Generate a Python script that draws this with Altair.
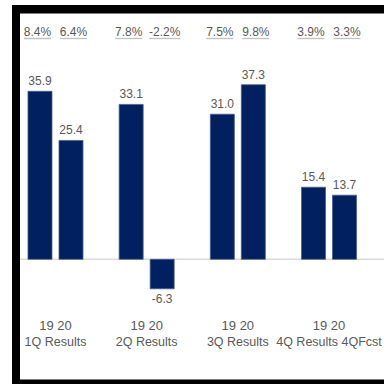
import altair as alt
import pandas as pd

quarters = ["1Q Results", "2Q Results", "3Q Results", "4Q Results 4QFcst"]
years = ["19", "20"]
values_19 = [35.9, 33.1, 31.0, 15.4]
values_20 = [25.4, -6.3, 37.3, 13.7]
pct_19 = ["8.4%", "7.8%", "7.5%", "3.9%"]
pct_20 = ["6.4%", "-2.2%", "9.8%", "3.3%"]

rows = []
for i, q in enumerate(quarters):
    rows.append(dict(quarter=q, year=years[0], value=values_19[i], pct=pct_19[i]))
    rows.append(dict(quarter=q, year=years[1], value=values_20[i], pct=pct_20[i]))
df = pd.DataFrame(rows)
df["vlabel"] = df["value"].map(lambda v: f"{v:.1f}")
grp = pd.DataFrame({"quarter": quarters, "years": [" ".join(years)] * len(quarters)})

FONT = "Liberation Sans"
NAVY = "#002060"
GREY = "#595959"

xscale = alt.Scale(domain=quarters, range=[9.9, 374.6], paddingInner=0, paddingOuter=0)
offscale = alt.Scale(domain=years, paddingInner=0.2258, paddingOuter=0.583)
yscale = alt.Scale(domain=[-10, 50], range=[306.1, 25.3])

X = alt.X("quarter:N", scale=xscale, axis=None, sort=quarters)
XO = alt.XOffset("year:N", scale=offscale, sort=years)
Y = alt.Y("value:Q", scale=yscale, axis=None)

base = alt.Chart(df)

bars = base.mark_bar(color=NAVY, stroke="#4a5d8a", strokeWidth=0.8).encode(x=X, xOffset=XO, y=Y)

pos_lbl = base.transform_filter("datum.value >= 0").mark_text(
    baseline="alphabetic", dy=-6, fontSize=12, font=FONT, color=GREY
).encode(x=X, xOffset=XO, y=Y, text="vlabel:N")

neg_lbl = base.transform_filter("datum.value < 0").mark_text(
    baseline="top", dy=5, fontSize=12, font=FONT, color=GREY
).encode(x=X, xOffset=XO, y=Y, text="vlabel:N")

main = alt.layer(bars, pos_lbl, neg_lbl)

# percentage labels sit slightly wider apart than the bars
offscale_pct = alt.Scale(domain=years, paddingInner=0, paddingOuter=0.266)
XOP = alt.XOffset("year:N", scale=offscale_pct, sort=years)
pbase = alt.Chart(df)
pct_lbl = pbase.mark_text(baseline="middle", fontSize=12, font=FONT, color=GREY).encode(
    x=X, xOffset=XOP, y=alt.value(32), text="pct:N"
)
underline = pbase.transform_calculate(
    w="datum.pct[0] == '-' ? 31 : 27"
).mark_tick(orient="horizontal", thickness=1.3, color="#a6a6a6").encode(
    x=X, xOffset=XOP, y=alt.value(38.5), size=alt.Size("w:Q", scale=None)
)
pcts = alt.layer(underline, pct_lbl)

zero = alt.Chart(pd.DataFrame({"z": [0]})).mark_rule(color="#d9d9d9", strokeWidth=1.5).encode(
    y=alt.Y("z:Q", scale=yscale, axis=None), x=alt.value(20), x2=alt.value(384)
)

yr_lbl = alt.Chart(grp).mark_text(baseline="middle", fontSize=13, font=FONT, color=GREY).encode(
    x=X, y=alt.value(326), text="years:N"
)
q_lbl = alt.Chart(grp).mark_text(baseline="middle", fontSize=12.5, font=FONT, color=GREY).encode(
    x=X, y=alt.value(342), text="quarter:N"
)

one = pd.DataFrame({"a": [1]})
frame_top = alt.Chart(one).mark_rect(color="black").encode(
    x=alt.value(12), x2=alt.value(384), y=alt.value(5), y2=alt.value(13.5)
)
frame_left = alt.Chart(one).mark_rect(color="black").encode(
    x=alt.value(12), x2=alt.value(20), y=alt.value(5), y2=alt.value(384)
)
frame_bot = alt.Chart(one).mark_rect(color="black").encode(
    x=alt.value(12), x2=alt.value(384), y=alt.value(379.5), y2=alt.value(384)
)

chart = alt.layer(
    zero, main, pcts, yr_lbl, q_lbl,
    frame_top, frame_left, frame_bot
).resolve_scale(xOffset="independent").properties(
    width=384, height=384, autosize=alt.AutoSizeParams(type="none"), padding=0, background="white"
).configure_view(stroke=None)

chart.save("out.html", embed_options={"renderer": "svg", "actions": False})
